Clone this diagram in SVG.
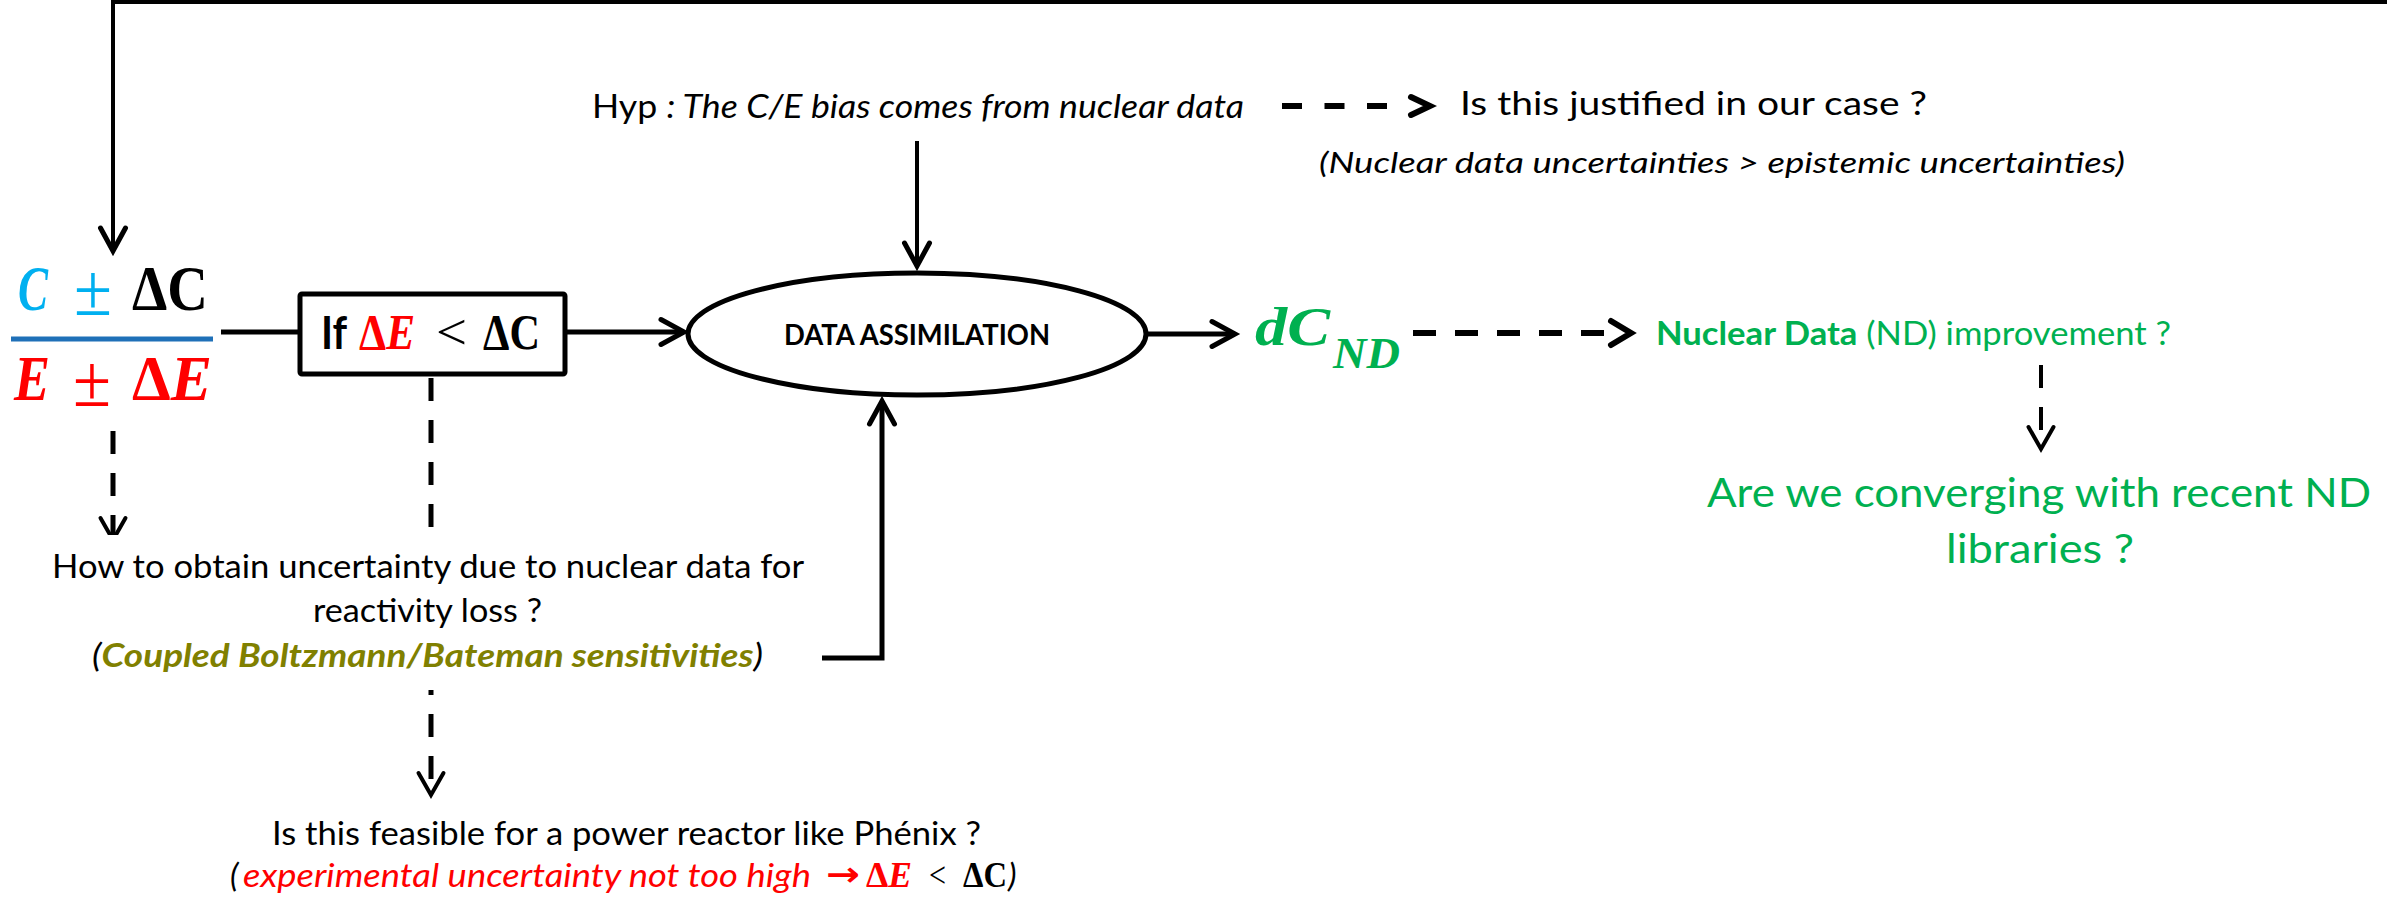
<svg xmlns="http://www.w3.org/2000/svg" width="2389" height="897" viewBox="0 0 2389 897">
  <style>
    .sans { font-family: Lato, "Liberation Sans", sans-serif; }
    .math { font-family: "Liberation Serif", "DejaVu Serif", serif; font-weight: bold; }
    .it { font-style: italic; }
    .b { font-weight: bold; }
    .n { font-weight: normal; }
    .red { fill: #FF0000; }
    .blue { fill: #00B0F0; }
    .green { fill: #00B050; }
    .olive { fill: #808000; }
    .ink { fill: #000000; }
    .line { fill: none; stroke: #000000; stroke-width: 5; }
    .thin { stroke-width: 4; }
    .dash { stroke-dasharray: 23 19; }
    .shape { fill: #FFFFFF; stroke: #000000; stroke-width: 5; }
  </style>
  <defs>
    <!-- open chevron for solid connectors -->
    <marker id="arrow" markerUnits="userSpaceOnUse" viewBox="-34 -18 44 36" refX="0" refY="0" markerWidth="44" markerHeight="36" orient="auto">
      <path d="M-23,-12.5 L0,0 L-23,12.5" fill="none" stroke="#000" stroke-width="5" stroke-linecap="round"/>
    </marker>
    <!-- chevron for dashed connectors -->
    <marker id="arrowD" markerUnits="userSpaceOnUse" viewBox="-34 -18 44 36" refX="0" refY="0" markerWidth="44" markerHeight="36" orient="auto">
      <path d="M-22,-12.5 L0,0 L-22,12.5" fill="none" stroke="#000" stroke-width="4" stroke-linecap="round"/>
    </marker>
    <!-- detached chevrons at the end of horizontal dashed lines -->
    <marker id="arrowGapS" markerUnits="userSpaceOnUse" viewBox="0 -16 60 32" refX="0" refY="0" markerWidth="60" markerHeight="32" orient="auto">
      <path d="M23,-9 L42,0 L23,9" fill="none" stroke="#000" stroke-width="6" stroke-linecap="round"/>
    </marker>
    <marker id="arrowGapL" markerUnits="userSpaceOnUse" viewBox="0 -18 40 36" refX="0" refY="0" markerWidth="40" markerHeight="36" orient="auto">
      <path d="M5,-12 L25,0 L5,12" fill="none" stroke="#000" stroke-width="6" stroke-linecap="round"/>
    </marker>
  </defs>

  <rect x="0" y="0" width="2389" height="897" fill="#FFFFFF"/>

  <!-- connectors -->
  <g id="connectors">
    <path class="line thin" d="M2387,2 H113 V251" marker-end="url(#arrow)"/>
    <path class="line" d="M221,332 H300"/>
    <path class="line" d="M565,332 H684" marker-end="url(#arrow)"/>
    <path class="line thin" d="M917,141 V266" marker-end="url(#arrow)"/>
    <path class="line" d="M1147,334 H1235" marker-end="url(#arrow)"/>
    <path class="line" d="M822,658 H882 V401" marker-end="url(#arrow)"/>
    <path class="line dash" d="M113,431 V540" marker-end="url(#arrowD)"/>
    <path class="line dash" d="M431,378 V527"/>
    <path class="line dash" d="M431,690 V795" style="stroke-dashoffset:18" marker-end="url(#arrowD)"/>
    <path class="line dash thin" d="M2041,365 V449" marker-end="url(#arrowD)"/>
    <path class="line" style="stroke-width:6;stroke-dasharray:20 22.5" d="M1282,106 H1388" marker-end="url(#arrowGapS)"/>
    <path class="line dash" style="stroke-width:6" d="M1413,333 H1606" marker-end="url(#arrowGapL)"/>
  </g>

  <!-- C ± ΔC over E ± ΔE -->
  <g id="ratio">
    <text class="math it blue" x="18" y="310" font-size="64" textLength="30" lengthAdjust="spacingAndGlyphs">C</text>
    <text class="math n blue" x="74" y="315" font-size="74" textLength="38" lengthAdjust="spacingAndGlyphs">±</text>
    <text class="math ink" x="132" y="310" font-size="64" textLength="76" lengthAdjust="spacingAndGlyphs">ΔC</text>
    <line x1="11" y1="339" x2="213" y2="339" stroke="#1F70B8" stroke-width="5"/>
    <text class="math it red" x="14" y="400" font-size="64" textLength="36" lengthAdjust="spacingAndGlyphs">E</text>
    <text class="math n red" x="73" y="406" font-size="74" textLength="38" lengthAdjust="spacingAndGlyphs">±</text>
    <text class="math red" x="132" y="400" font-size="64" textLength="80" lengthAdjust="spacingAndGlyphs">Δ<tspan class="it">E</tspan></text>
  </g>

  <!-- condition box -->
  <g id="condition">
    <rect class="shape" x="300" y="294" width="265" height="80" rx="2"/>
    <text class="sans b ink" x="321" y="349" font-size="45" textLength="26" lengthAdjust="spacingAndGlyphs">If</text>
    <text class="math red" x="359" y="349" font-size="50" textLength="56" lengthAdjust="spacingAndGlyphs">Δ<tspan class="it">E</tspan></text>
    <text class="math n ink" x="436" y="349" font-size="50" textLength="31" lengthAdjust="spacingAndGlyphs">&lt;</text>
    <text class="math ink" x="483" y="349" font-size="50" textLength="57" lengthAdjust="spacingAndGlyphs">ΔC</text>
  </g>

  <!-- data assimilation -->
  <g id="assimilation">
    <ellipse class="shape" cx="917" cy="334" rx="229" ry="61"/>
    <text class="sans b ink" x="784" y="345" font-size="29" textLength="266" lengthAdjust="spacingAndGlyphs">DATA ASSIMILATION</text>
  </g>

  <!-- hypothesis -->
  <g id="hypothesis">
    <text class="sans ink" x="592" y="118" font-size="32" textLength="652" lengthAdjust="spacingAndGlyphs">Hyp <tspan class="it">: The C/E bias comes from nuclear data</tspan></text>
  </g>

  <g id="justified">
    <text class="sans ink" x="1460" y="115" font-size="33" textLength="467" lengthAdjust="spacingAndGlyphs">Is this justified in our case ?</text>
    <text class="sans it ink" x="1319" y="173" font-size="29" textLength="806" lengthAdjust="spacingAndGlyphs">(Nuclear data uncertainties &gt; epistemic uncertainties)</text>
  </g>

  <!-- output dC_ND -->
  <g id="dcnd">
    <text class="math it green" x="1255" y="345" font-size="54" textLength="75" lengthAdjust="spacingAndGlyphs">dC</text>
    <text class="math it green" x="1333" y="368" font-size="44" textLength="67" lengthAdjust="spacingAndGlyphs">ND</text>
  </g>

  <g id="improvement">
    <text class="sans green" x="1656" y="345" font-size="33" textLength="515" lengthAdjust="spacingAndGlyphs"><tspan class="b">Nuclear Data</tspan> (ND) improvement ?</text>
  </g>

  <g id="converging">
    <text class="sans green" x="1707" y="507" font-size="40" textLength="664" lengthAdjust="spacingAndGlyphs">Are we converging with recent ND</text>
    <text class="sans green" x="1946" y="563" font-size="40" textLength="188" lengthAdjust="spacingAndGlyphs">libraries ?</text>
  </g>

  <!-- uncertainty question, white box over the dashed line -->
  <g id="uncertainty">
    <rect x="40" y="535" width="780" height="150" fill="#FFFFFF"/>
    <text class="sans ink" x="52" y="578" font-size="32" textLength="752" lengthAdjust="spacingAndGlyphs">How to obtain uncertainty due to nuclear data for</text>
    <text class="sans ink" x="313" y="622" font-size="32" textLength="229" lengthAdjust="spacingAndGlyphs">reactivity loss ?</text>
    <text class="sans it ink" x="92" y="667" font-size="32" textLength="671" lengthAdjust="spacingAndGlyphs">(<tspan class="b olive">Coupled Boltzmann/Bateman sensitivities</tspan>)</text>
  </g>

  <g id="feasibility">
    <text class="sans ink" x="272" y="845" font-size="33" textLength="709" lengthAdjust="spacingAndGlyphs">Is this feasible for a power reactor like Phénix ?</text>
    <text class="sans it ink" x="230" y="887" font-size="33">(</text>
    <text class="sans it red" x="243" y="887" font-size="33" textLength="568" lengthAdjust="spacingAndGlyphs">experimental uncertainty not too high</text>
    <text class="red" x="826" y="886" font-size="34" font-family="'DejaVu Sans', sans-serif" font-weight="bold" textLength="34" lengthAdjust="spacingAndGlyphs">→</text>
    <text class="math red" x="866" y="887" font-size="36" textLength="46" lengthAdjust="spacingAndGlyphs">Δ<tspan class="it">E</tspan></text>
    <text class="math n ink" x="929" y="887" font-size="36" textLength="17" lengthAdjust="spacingAndGlyphs">&lt;</text>
    <text class="math ink" x="963" y="887" font-size="36" textLength="44" lengthAdjust="spacingAndGlyphs">ΔC</text>
    <text class="sans it ink" x="1008" y="887" font-size="33">)</text>
  </g>
</svg>
